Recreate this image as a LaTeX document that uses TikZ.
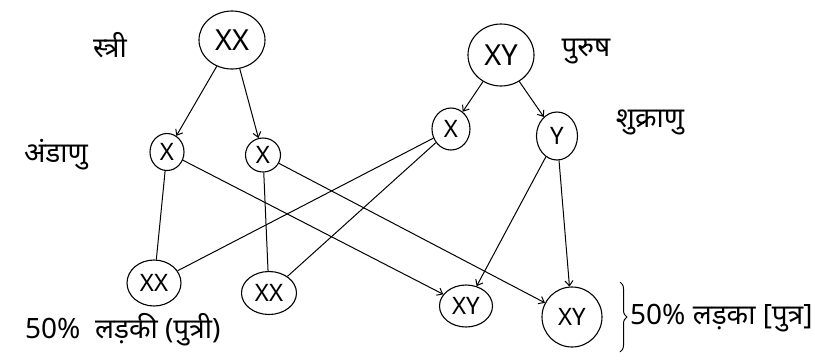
\documentclass[tikz,border=0pt]{standalone}
\usepackage{fontspec}
\setmainfont{Noto Sans}
\newfontfamily\dev[Script=Devanagari]{Noto Sans}
\usetikzlibrary{arrows.meta,shapes.geometric,decorations.pathreplacing}
\begin{document}
\begin{tikzpicture}[x=1pt,y=-1pt,
  cell/.style={draw,ellipse,line width=1.1pt,inner sep=0pt},
  big/.style={cell,font=\fontsize{29}{29}\selectfont},
  small/.style={cell,font=\fontsize{24}{24}\selectfont},
  lbl/.style={font=\dev\fontsize{28}{32}\selectfont,inner sep=0pt},
  link/.style={line width=1pt},
  arr/.style={line width=1pt,-{Straight Barb[length=5pt,width=8pt]}}]
\useasboundingbox (0,0) rectangle (815,360);
% parents
\node[big,minimum width=66pt,minimum height=58pt] (pXX) at (232,40) {XX};
\node[big,minimum width=66pt,minimum height=62pt] (pXY) at (501,55) {XY};
% gametes
\node[small,minimum width=34pt,minimum height=37pt] (e1) at (167,152) {X};
\node[small,minimum width=35pt,minimum height=34pt] (e2) at (263,155) {X};
\node[small,minimum width=38pt,minimum height=42pt] (sX) at (451,129) {X};
\node[small,minimum width=41pt,minimum height=48pt] (sY) at (557,136) {Y};
% children
\node[small,minimum width=54pt,minimum height=46pt] (c1) at (154,283) {XX};
\node[small,minimum width=55pt,minimum height=43pt] (c2) at (269,293) {XX};
\node[small,minimum width=53pt,minimum height=42pt] (c3) at (466,306) {XY};
\node[small,minimum width=60pt,minimum height=60pt] (c4) at (572,317) {XY};
% labels
\node[lbl] (tstri) at (110,45) {स्त्री};
\node[lbl] (tpurush) at (586,52) {पुरुष};
\node[lbl] (tanda) at (56,155) {अंडाणु};
\node[lbl] (tshukra) at (650,122) {शुक्राणु};
\node[lbl,anchor=west] (tgirl) at (25,330) {50\%\ \ लड़की\ (पुत्री)};
\coordinate (bt) at (620,282);
\coordinate (bb) at (620,352);
\draw[line width=1pt,decorate,decoration={brace,amplitude=7pt}] (bt) -- (bb);
\node[lbl,anchor=west] (tboy) at (630,318) {50\% लड़का [पुत्र]};
% parent to gametes
\draw[arr] (pXX) -- (e1);
\draw[arr] (pXX) -- (e2);
\draw[arr] (pXY) -- (sX);
\draw[arr] (pXY) -- (sY);
% gametes to children
\draw[link] (e1) -- (c1);
\draw[link] (e2) -- (c2);
\draw[link] (sX) -- (c1);
\draw[link] (sX) -- (c2);
\draw[arr] (e1) -- (c3);
\draw[arr] (e2) -- (c4);
\draw[arr] (sY) -- (c3);
\draw[arr] (sY) -- (c4);
\end{tikzpicture}
\end{document}
